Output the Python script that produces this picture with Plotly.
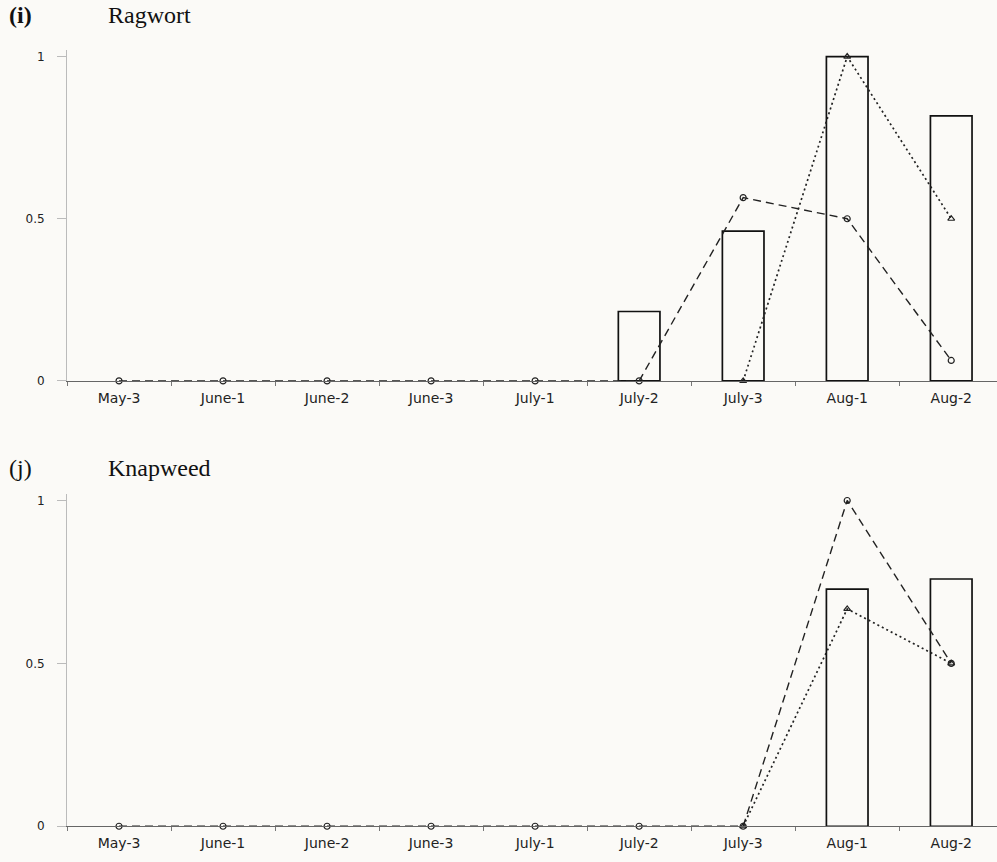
import plotly.graph_objects as go

categories = ["May-3", "June-1", "June-2", "June-3", "July-1", "July-2", "July-3", "Aug-1", "Aug-2"]

rag_bars = [0, 0, 0, 0, 0, 0.214, 0.462, 1.0, 0.817]
rag_dashed = [0, 0, 0, 0, 0, 0, 0.565, 0.5, 0.063]
rag_dotted = [None, None, None, None, None, None, 0, 1.0, 0.5]

knap_bars = [0, 0, 0, 0, 0, 0, 0, 0.728, 0.759]
knap_dashed = [0, 0, 0, 0, 0, 0, 0, 1.0, 0.5]
knap_dotted = [None, None, None, None, None, None, 0, 0.667, 0.5]

y_ticks = [0, 0.5, 1]
y_tick_text = ["0", "0.5", "1"]

W, H = 997, 862
BG = "#fbfaf7"

fig = go.Figure()

panels = [
    ("x", "y", rag_bars, rag_dashed, rag_dotted),
    ("x2", "y2", knap_bars, knap_dashed, knap_dotted),
]
for xa, ya, bars, dashed, dotted in panels:
    fig.add_trace(go.Bar(x=categories, y=bars, xaxis=xa, yaxis=ya, width=0.4,
                         marker=dict(color=BG, line=dict(color="#111",
                                                         width=[1.7 if v else 0 for v in bars])),
                         showlegend=False))
    fig.add_trace(go.Scatter(x=categories, y=dashed, xaxis=xa, yaxis=ya, mode="lines+markers",
                             line=dict(color="#222", width=1.4, dash="8px,5px"),
                             marker=dict(symbol="circle-open", size=6, color="#222", line=dict(width=1.2)),
                             cliponaxis=False, showlegend=False))
    fig.add_trace(go.Scatter(x=categories, y=dotted, xaxis=xa, yaxis=ya, mode="lines+markers",
                             line=dict(color="#222", width=1.7, dash="2px,3px"),
                             marker=dict(symbol="triangle-up-open", size=6, color="#222", line=dict(width=1.2)),
                             cliponaxis=False, showlegend=False, connectgaps=False))

def ydom(top_px, bottom_px):
    return [1 - bottom_px / H, 1 - top_px / H]

xdom = [67 / W, 1.0]
xcommon = dict(domain=xdom, range=[-0.5, 8.44], type="category", tickson="boundaries",
               ticks="outside", ticklen=4, tickcolor="#777", showline=True, linecolor="#666",
               linewidth=1, showgrid=False, zeroline=False, ticklabelstandoff=4,
               tickfont=dict(family="DejaVu Sans", size=14, color="#222"))
ycommon = dict(range=[0, 1.02], tickvals=y_ticks, ticktext=y_tick_text, ticks="outside",
               ticklen=9, tickcolor="#bbb", showline=True, linecolor="#bbb", linewidth=1,
               showgrid=False, zeroline=False, ticklabelstandoff=10,
               tickfont=dict(family="DejaVu Sans", size=12, color="#222"))

fig.update_layout(
    width=W, height=H, margin=dict(l=0, r=0, t=0, b=0),
    paper_bgcolor=BG, plot_bgcolor=BG, bargap=0.6,
    xaxis=dict(anchor="y", **xcommon),
    yaxis=dict(anchor="x", domain=ydom(50.5, 384), **ycommon),
    xaxis2=dict(anchor="y2", **xcommon),
    yaxis2=dict(anchor="x2", domain=ydom(498, 833), **ycommon),
)

title_font = dict(family="Liberation Serif", size=24, color="#111")
for ypx, label, name in [(15, "<b>(i)</b>", "Ragwort"), (472, "(j)", "Knapweed")]:
    fig.add_annotation(xref="paper", yref="paper", x=7 / W, y=1 - ypx / H, text=label,
                       showarrow=False, xanchor="left", yanchor="middle", font=title_font)
    fig.add_annotation(xref="paper", yref="paper", x=106 / W, y=1 - ypx / H, text=name,
                       showarrow=False, xanchor="left", yanchor="middle", font=title_font)

fig.write_html("out.html")
